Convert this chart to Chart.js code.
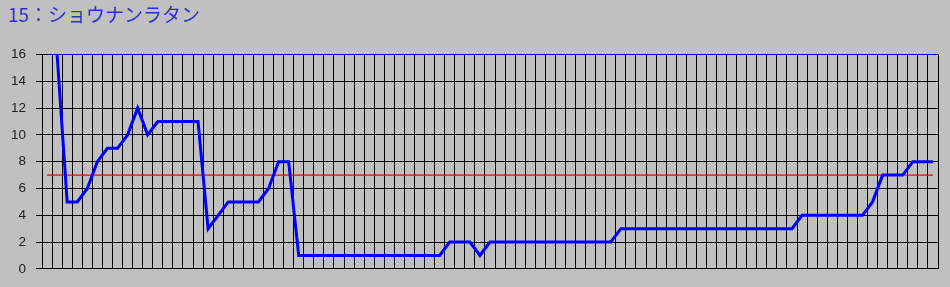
<!DOCTYPE html>
<html lang="ja">
<head>
<meta charset="utf-8">
<title>15：ショウナンラタン</title>
<script src="https://cdn.jsdelivr.net/npm/chart.js@4/dist/chart.umd.min.js"></script>
<style>
	html, body {
		margin: 0;
		padding: 0;
		background: #c0c0c0;
	}
	#grafikWrap {
		position: relative;
		width: 950px;
		height: 287px;
	}
</style>
</head>
<body>
<div id="grafikWrap">
	<canvas id="rankChart" width="950" height="287"></canvas>
</div>
<script>
// Judul grafik
const judulGrafik = "15：ショウナンラタン";

// Kategori sumbu X (satu kolom per data)
const labelKategori = [
	"1", "2", "3", "4", "5", "6", "7", "8", "9", "10",
	"11", "12", "13", "14", "15", "16", "17", "18", "19", "20",
	"21", "22", "23", "24", "25", "26", "27", "28", "29", "30",
	"31", "32", "33", "34", "35", "36", "37", "38", "39", "40",
	"41", "42", "43", "44", "45", "46", "47", "48", "49", "50",
	"51", "52", "53", "54", "55", "56", "57", "58", "59", "60",
	"61", "62", "63", "64", "65", "66", "67", "68", "69", "70",
	"71", "72", "73", "74", "75", "76", "77", "78", "79", "80",
	"81", "82", "83", "84", "85", "86", "87", "88", "89",
];

// Nilai utama (garis biru tebal)
const nilaiUtama = [
	null, 16, 5, 5, 6, 8, 9, 9, 10, 12,
	10, 11, 11, 11, 11, 11, 3, 4, 5, 5,
	5, 5, 6, 8, 8, 1, 1, 1, 1, 1,
	1, 1, 1, 1, 1, 1, 1, 1, 1, 1,
	2, 2, 2, 1, 2, 2, 2, 2, 2, 2,
	2, 2, 2, 2, 2, 2, 2, 3, 3, 3,
	3, 3, 3, 3, 3, 3, 3, 3, 3, 3,
	3, 3, 3, 3, 3, 4, 4, 4, 4, 4,
	4, 4, 5, 7, 7, 7, 8, 8, 8,
];

// Garis referensi
const garisBatas = 7;   // garis merah
const garisAtas = 16;   // garis biru tipis di atas

// Label sumbu Y
const labelSumbuY = [0, 2, 4, 6, 8, 10, 12, 14, 16];

/**
 * Plugin kecil untuk menulis judul di pojok kiri atas.
 */
const pluginJudul = {
	id: "judulKiri",
	afterDraw(chart) {
		const ctx = chart.ctx;
		ctx.save();
		ctx.font = "19px 'Noto Sans CJK JP'";
		ctx.fillStyle = "#2d2dd2";
		ctx.textAlign = "left";
		ctx.textBaseline = "alphabetic";
		ctx.fillText(judulGrafik, 8, 22);
		ctx.restore();
	},
};

document.addEventListener("DOMContentLoaded", function () {
	const el = document.getElementById("rankChart");
	if (!el) return;

	const awal = labelKategori[0];
	const akhir = labelKategori[labelKategori.length - 1];

	try {
		new Chart(el, {
			type: "line",
			data: {
				labels: labelKategori,
				datasets: [
					{
						label: "順位",
						data: nilaiUtama,
						borderColor: "#0000ff",
						borderWidth: 3,
						pointRadius: 0,
						tension: 0,
						spanGaps: false,
					},
					{
						label: "基準",
						data: [
							{ x: awal, y: garisBatas },
							{ x: akhir, y: garisBatas },
						],
						borderColor: "#ff0000",
						borderWidth: 1.2,
						pointRadius: 0,
					},
					{
						label: "上限",
						data: [
							{ x: awal, y: garisAtas },
							{ x: akhir, y: garisAtas },
						],
						borderColor: "#0000ff",
						borderWidth: 1,
						pointRadius: 0,
						clip: 2,
					},
				],
			},
			options: {
				responsive: false,
				animation: false,
				devicePixelRatio: 1,
				layout: {
					padding: { left: 0, right: 12, top: 54.5, bottom: 14.5 },
				},
				plugins: {
					legend: { display: false },
					tooltip: { enabled: false },
				},
				scales: {
					x: {
						type: "category",
						offset: true,
						grid: {
							color: "#000",
							lineWidth: 1,
							offset: true,
							drawTicks: false,
						},
						border: { color: "#000" },
						ticks: { display: false },
						afterFit(scale) {
							scale.height = 0;
						},
					},
					y: {
						min: 0,
						max: 16,
						afterBuildTicks(scale) {
							scale.ticks = labelSumbuY.map((v) => ({ value: v }));
						},
						grid: {
							color: "#000",
							lineWidth: 1,
							tickLength: 6,
						},
						border: { color: "#000" },
						ticks: {
							color: "#222",
							padding: 10,
							font: { family: "'Liberation Sans'", size: 13.5 },
						},
						afterFit(scale) {
							scale.width = 42;
						},
					},
				},
			},
			plugins: [pluginJudul],
		});
	} catch (e) {
		console.error("Gagal membuat grafik:", e);
	}
});
</script>
</body>
</html>
